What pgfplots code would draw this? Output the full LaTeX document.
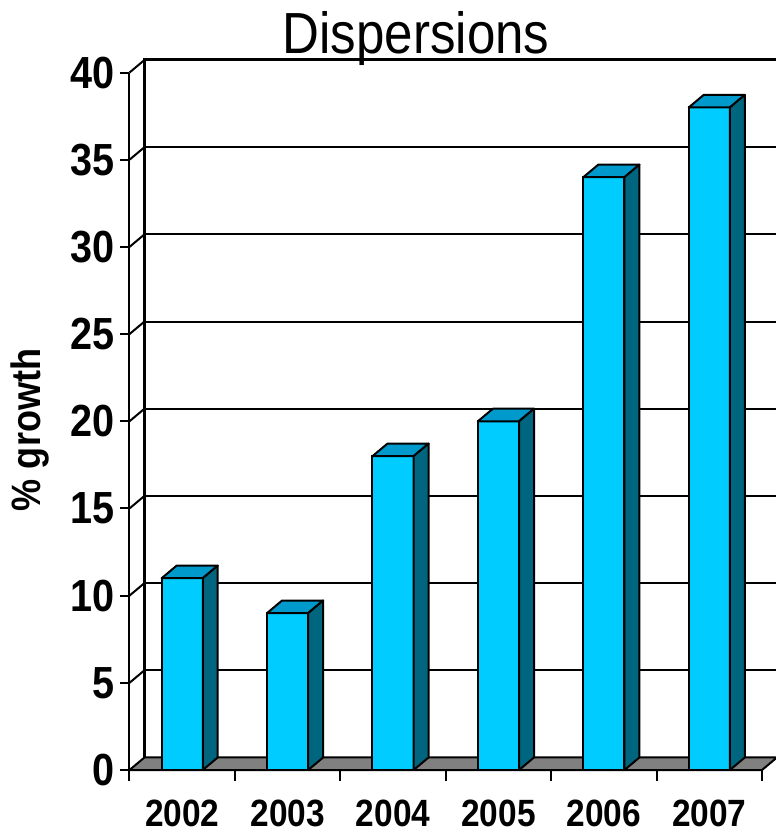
\documentclass[border=0pt]{standalone}
\usepackage{fontspec}
\setmainfont{Liberation Sans}
\newfontfamily\narrowfont{Liberation Sans}[FakeStretch=0.88]
\usepackage{pgfplots}
\pgfplotsset{compat=1.18}
\definecolor{frontc}{RGB}{0,204,255}
\definecolor{topc}{RGB}{0,153,204}
\definecolor{sidec}{RGB}{0,102,128}
\definecolor{floorc}{RGB}{128,128,128}
\begin{document}
\begin{tikzpicture}
\begin{axis}[
  at={(0pt,0pt)}, anchor=south west,
  scale only axis, width=647.5pt, height=710pt,
  xmin=-0.5, xmax=5.642, ymin=0, ymax=40.72,
  clip=false,
  axis x line*=bottom, axis y line*=left,
  axis line style={draw=none},
  /pgf/number format/assume math mode=true,
  xtick={0,1,2,3,4,5},
  xticklabels={2002,2003,2004,2005,2006,2007},
  major x tick style={draw=none},
  minor xtick={-0.5,0.5,1.5,2.5,3.5,4.5,5.5},
  ytick={0,5,...,40},
  tick align=outside,
  major tick length=9pt, minor tick length=11pt,
  tick style={black, line width=2pt},
  xticklabel style={font=\fontsize{38}{38}\selectfont\narrowfont\bfseries, yshift=-17pt},
  yticklabel style={font=\fontsize{45}{45}\selectfont\narrowfont\bfseries, xshift=-2pt},
  ylabel={\% growth},
  ylabel style={font=\fontsize{41}{41}\selectfont\narrowfont\bfseries, at={(axis description cs:-0.1537,0.479)}, anchor=center},
  title={Dispersions},
  title style={font=\fontsize{58}{58}\selectfont\narrowfont, at={(axis description cs:0.4425,1.0)}, anchor=base},
]
% floor
\addplot[fill=floorc, draw=black, line width=2pt, line join=round] coordinates {(-0.5,0) (5.5,0) (5.642,0.72) (-0.358,0.72)} -- cycle;
% back wall gridlines
\addplot[black, line width=2pt, unbounded coords=jump] table[x=x,y=y] {
x y
-0.358 5.72
5.642 5.72
-0.358 nan
-0.358 10.72
5.642 10.72
-0.358 nan
-0.358 15.72
5.642 15.72
-0.358 nan
-0.358 20.72
5.642 20.72
-0.358 nan
-0.358 25.72
5.642 25.72
-0.358 nan
-0.358 30.72
5.642 30.72
-0.358 nan
-0.358 35.72
5.642 35.72
};
% side wall diagonals
\addplot[black, line width=2pt, unbounded coords=jump] table[x=x,y=y] {
x y
-0.5 5
-0.358 5.72
-0.5 nan
-0.5 10
-0.358 10.72
-0.5 nan
-0.5 15
-0.358 15.72
-0.5 nan
-0.5 20
-0.358 20.72
-0.5 nan
-0.5 25
-0.358 25.72
-0.5 nan
-0.5 30
-0.358 30.72
-0.5 nan
-0.5 35
-0.358 35.72
-0.5 nan
-0.5 40
-0.358 40.72
};
% front y axis
\addplot[black, line width=2pt] coordinates {(-0.5,0) (-0.5,40)};
% back wall left edge and top
\addplot[black, line width=3pt, line join=miter] coordinates {(-0.358,0.72) (-0.358,40.72) (5.642,40.72)};
% bars: front faces
\addplot[ybar, bar shift=0pt, bar width=0.39, fill=frontc, draw=black, line width=2pt] coordinates {(0,11) (1,9) (2,18) (3,20) (4,34) (5,38)};
% bar tops
\addplot[fill=topc, draw=black, line width=2pt, line join=round] coordinates {(-0.195,11) (0.195,11) (0.337,11.72) (-0.053,11.72)} -- cycle;
\addplot[fill=topc, draw=black, line width=2pt, line join=round] coordinates {(0.805,9) (1.195,9) (1.337,9.72) (0.947,9.72)} -- cycle;
\addplot[fill=topc, draw=black, line width=2pt, line join=round] coordinates {(1.805,18) (2.195,18) (2.337,18.72) (1.947,18.72)} -- cycle;
\addplot[fill=topc, draw=black, line width=2pt, line join=round] coordinates {(2.805,20) (3.195,20) (3.337,20.72) (2.947,20.72)} -- cycle;
\addplot[fill=topc, draw=black, line width=2pt, line join=round] coordinates {(3.805,34) (4.195,34) (4.337,34.72) (3.947,34.72)} -- cycle;
\addplot[fill=topc, draw=black, line width=2pt, line join=round] coordinates {(4.805,38) (5.195,38) (5.337,38.72) (4.947,38.72)} -- cycle;
% bar sides
\addplot[fill=sidec, draw=black, line width=2pt, line join=round] coordinates {(0.195,0) (0.337,0.72) (0.337,11.72) (0.195,11)} -- cycle;
\addplot[fill=sidec, draw=black, line width=2pt, line join=round] coordinates {(1.195,0) (1.337,0.72) (1.337,9.72) (1.195,9)} -- cycle;
\addplot[fill=sidec, draw=black, line width=2pt, line join=round] coordinates {(2.195,0) (2.337,0.72) (2.337,18.72) (2.195,18)} -- cycle;
\addplot[fill=sidec, draw=black, line width=2pt, line join=round] coordinates {(3.195,0) (3.337,0.72) (3.337,20.72) (3.195,20)} -- cycle;
\addplot[fill=sidec, draw=black, line width=2pt, line join=round] coordinates {(4.195,0) (4.337,0.72) (4.337,34.72) (4.195,34)} -- cycle;
\addplot[fill=sidec, draw=black, line width=2pt, line join=round] coordinates {(5.195,0) (5.337,0.72) (5.337,38.72) (5.195,38)} -- cycle;
\end{axis}
\pgfresetboundingbox
\path[use as bounding box] (-129.5pt,-66pt) rectangle (646.5pt,770pt);
\end{tikzpicture}
\end{document}
